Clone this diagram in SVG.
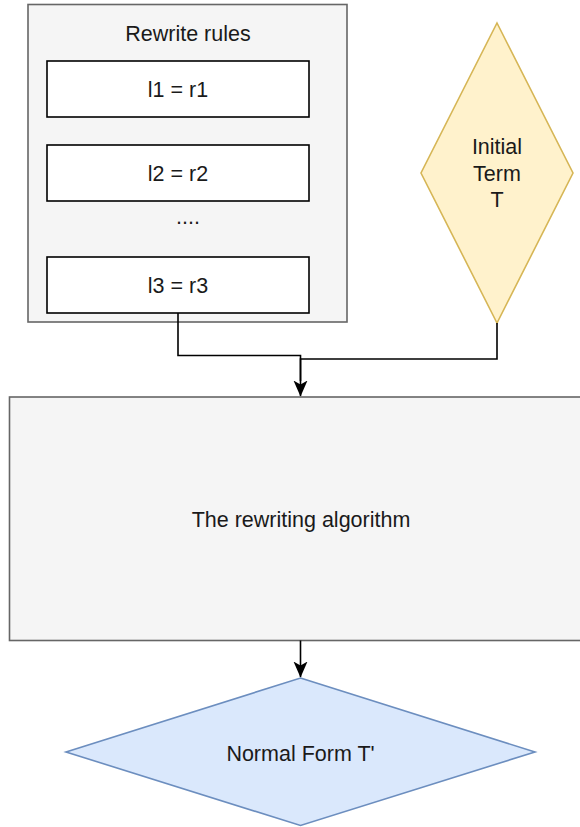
<svg xmlns="http://www.w3.org/2000/svg" width="580" height="827" viewBox="0 0 580 827">
<style>
text{font-family:"Liberation Sans",Arial,Helvetica,sans-serif;font-size:21.5px;fill:#1a1a1a;text-anchor:middle}
.grey{fill:#f5f5f5;stroke:#666666;stroke-width:1.6}
.rule{fill:#ffffff;stroke:#000000;stroke-width:1.6}
.edge{fill:none;stroke:#000000;stroke-width:1.6}
</style>
<defs>
<marker id="arr" viewBox="0 0 16 16" refX="15.5" refY="8" markerWidth="16" markerHeight="16" markerUnits="userSpaceOnUse" orient="auto">
<path d="M0,1 L16,8 L0,15 L4,8 Z" fill="#000000"/>
</marker>
</defs>
<rect x="0" y="0" width="580" height="827" fill="#ffffff"/>
<g id="rewrite-rules">
<rect class="grey" x="28" y="4.5" width="319" height="317.5"/>
<text x="188" y="41" fill="#333333">Rewrite rules</text>
</g>
<g id="rule1">
<rect class="rule" x="47" y="61" width="262" height="56"/>
<text x="178" y="97">l1 = r1</text>
</g>
<g id="rule2">
<rect class="rule" x="47" y="145" width="262" height="56"/>
<text x="178" y="181">l2 = r2</text>
</g>
<g id="dots">
<text x="188" y="224">....</text>
</g>
<g id="rule3">
<rect class="rule" x="47" y="257" width="262" height="56"/>
<text x="178" y="293">l3 = r3</text>
</g>
<g id="initial-term">
<polygon points="497,23 573,173 497,323 421,173" fill="#fff2cc" stroke="#d6b656" stroke-width="1.6"/>
<text x="497" y="154">Initial</text>
<text x="497" y="180.5">Term</text>
<text x="497" y="207">T</text>
</g>
<g id="algorithm">
<rect class="grey" x="9.5" y="397" width="582" height="243.5"/>
<text x="301" y="527">The rewriting algorithm</text>
</g>
<g id="normal-form">
<polygon points="300.5,678 535,752 300.5,825.5 66,752" fill="#dae8fc" stroke="#6c8ebf" stroke-width="1.6"/>
<text x="300.5" y="761">Normal Form T'</text>
</g>
<g id="connectors">
<path class="edge" d="M178,313 V355.5 H300.5 V381" />
<path class="edge" d="M497,323 V359 H300.5 V396" marker-end="url(#arr)"/>
<path class="edge" d="M300.5,640.5 V677" marker-end="url(#arr)"/>
</g>
</svg>
